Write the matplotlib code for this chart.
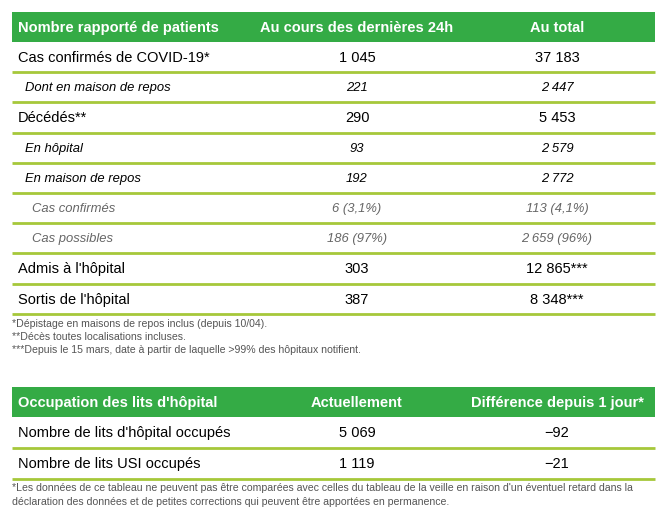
import matplotlib.pyplot as plt
from matplotlib.patches import Rectangle

plt.rcParams['font.family'] = ['Liberation Sans', 'DejaVu Sans']

GREEN = "#34ab45"
LINE = "#a6c83a"
GREY = "#666666"
NOTE = "#555555"

# table 1
headers1 = ["Nombre rapporté de patients", "Au cours des dernières 24h", "Au total"]
labels1 = ["Cas confirmés de COVID-19*", "Dont en maison de repos", "Décédés**",
           "En hôpital", "En maison de repos", "Cas confirmés", "Cas possibles",
           "Admis à l'hôpital", "Sortis de l'hôpital"]
last_24h = ["1 045", "221", "290", "93", "192", "6 (3,1%)", "186 (97%)", "303", "387"]
totals = ["37 183", "2 447", "5 453", "2 579", "2 772", "113 (4,1%)", "2 659 (96%)",
          "12 865***", "8 348***"]
levels1 = [0, 1, 0, 1, 1, 2, 2, 0, 0]
notes1 = ["*Dépistage en maisons de repos inclus (depuis 10/04).",
          "**Décès toutes localisations incluses.",
          "***Depuis le 15 mars, date à partir de laquelle >99% des hôpitaux notifient."]

# table 2
headers2 = ["Occupation des lits d'hôpital", "Actuellement", "Différence depuis 1 jour*"]
labels2 = ["Nombre de lits d'hôpital occupés", "Nombre de lits USI occupés"]
current = ["5 069", "1 119"]
diff = ["\u221292", "\u221221"]
notes2 = ["*Les données de ce tableau ne peuvent pas être comparées avec celles du tableau de la veille en raison d'un éventuel retard dans la",
          "déclaration des données et de petites corrections qui peuvent être apportées en permanence."]

W, H = 672, 524
fig = plt.figure(figsize=(W / 100, H / 100), dpi=100)
ax = fig.add_axes([0, 0, 1, 1])
ax.set_xlim(0, W)
ax.set_ylim(H, 0)
ax.axis('off')

X0, X1 = 12, 655
COL2, COL3 = 357, 557
BIG, SMALL, FOOT = 10.5, 9.4, 7.6


def draw_table(top, headers, rows, row_h, levels=None):
    ax.add_patch(Rectangle((X0, top), X1 - X0, 30, color=GREEN, lw=0))
    hy = top + 20
    ax.text(18, hy, headers[0], color='white', weight='bold', fontsize=BIG, va='baseline')
    ax.text(COL2, hy, headers[1], color='white', weight='bold', fontsize=BIG,
            va='baseline', ha='center')
    ax.text(COL3, hy, headers[2], color='white', weight='bold', fontsize=BIG,
            va='baseline', ha='center')
    y = top + 30
    for i, (lab, a, b) in enumerate(rows):
        lvl = levels[i] if levels else 0
        if lvl == 0:
            kw = dict(fontsize=BIG, color='black')
            x, by = 18, y + 20
        elif lvl == 1:
            kw = dict(fontsize=SMALL, color='black', style='italic')
            x, by = 25, y + 19
        else:
            kw = dict(fontsize=SMALL, color=GREY, style='italic')
            x, by = 32, y + 19
        ax.text(x, by, lab, va='baseline', **kw)
        ax.text(COL2, by, a, va='baseline', ha='center', **kw)
        ax.text(COL3, by, b, va='baseline', ha='center', **kw)
        y += row_h
        ax.plot([X0, X1], [y, y], color=LINE, lw=2, solid_capstyle='butt')
    return y


bottom1 = draw_table(12, headers1, list(zip(labels1, last_24h, totals)), 30.2, levels1)
for i, n in enumerate(notes1):
    ax.text(12, bottom1 + 10 + i * 13, n, fontsize=FOOT, color=NOTE, va='center')

bottom2 = draw_table(387, headers2, list(zip(labels2, current, diff)), 31)
for i, n in enumerate(notes2):
    ax.text(12, bottom2 + 9 + i * 14, n, fontsize=FOOT, color=NOTE, va='center')

fig.savefig("out.png", dpi=100)
